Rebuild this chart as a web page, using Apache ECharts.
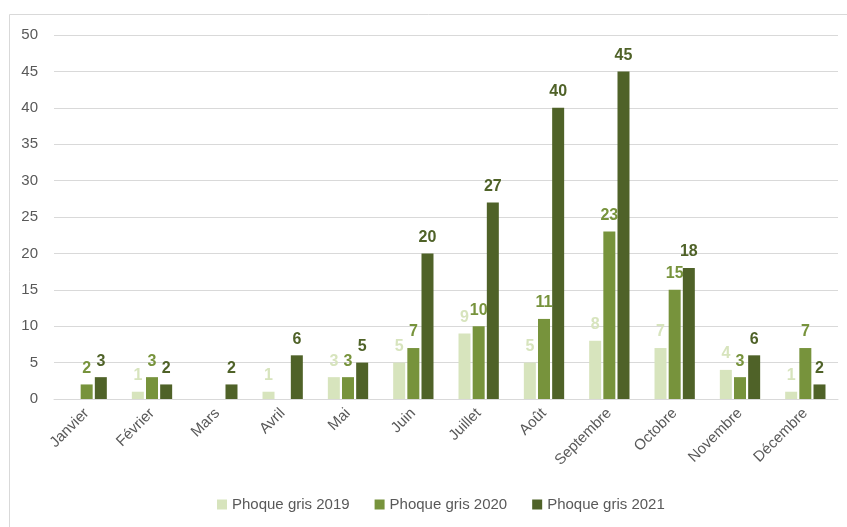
<!DOCTYPE html>
<html><head><meta charset="utf-8">
<script src="https://cdn.jsdelivr.net/npm/echarts@6/dist/echarts.min.js"></script>
<style>html,body{margin:0;padding:0;background:#fff}#c{width:847px;height:527px}</style>
</head><body><div id="c"></div>
<script>
const categories = ['Janvier','Février','Mars','Avril','Mai','Juin','Juillet','Août','Septembre','Octobre','Novembre','Décembre'];
const seriesNames = ['Phoque gris 2019','Phoque gris 2020','Phoque gris 2021'];
const values2019 = [null,1,null,1,3,5,9,5,8,7,4,1];
const values2020 = [2,3,null,null,3,7,10,11,23,15,3,7];
const values2021 = [3,2,2,6,5,20,27,40,45,18,6,2];
const colors = ['#d7e4bd','#77933c','#4f6228'];
const labelColors = ['#d7e4bd','#77933c','#4f6228'];
const FONT = '"Liberation Sans Narrow", "Liberation Sans", Arial, sans-serif';
const data = [values2019, values2020, values2021];
const chart = echarts.init(document.getElementById('c'), null, {renderer:'canvas'});
chart.setOption({
  animation:false,
  textStyle:{fontFamily:FONT},
  graphic:[{type:'rect', shape:{x:9.5,y:14.5,width:900,height:600}, style:{fill:'none', stroke:'#d9d9d9', lineWidth:1}, z:-10}],
  grid:{left:54, right:9, top:35, bottom:128, containLabel:false},
  legend:{bottom:10, left:212, itemWidth:10, itemHeight:10, itemGap:25, icon:'rect',
    textStyle:{fontFamily:FONT, fontSize:15, color:'#595959'}, data:seriesNames},
  xAxis:{type:'category', data:categories,
    axisLine:{lineStyle:{color:'#d9d9d9'}}, axisTick:{show:false},
    axisLabel:{rotate:45, fontFamily:FONT, fontSize:15, color:'#595959', margin:12, interval:0}},
  yAxis:{type:'value', min:0, max:50, interval:5,
    splitLine:{lineStyle:{color:'#d9d9d9'}}, axisLine:{show:false}, axisTick:{show:false},
    axisLabel:{fontFamily:FONT, fontSize:15, color:'#595959', margin:16}},
  series: data.map((d,i)=>({
    name:seriesNames[i], type:'bar', data:d, barWidth:12, barGap:'18%',
    itemStyle:{color:colors[i]},
    label:{show:true, position:'top', distance:8, fontFamily:'"Liberation Sans", Arial, sans-serif', fontWeight:'bold', fontSize:16, color:labelColors[i]}
  }))
});
</script></body></html>
